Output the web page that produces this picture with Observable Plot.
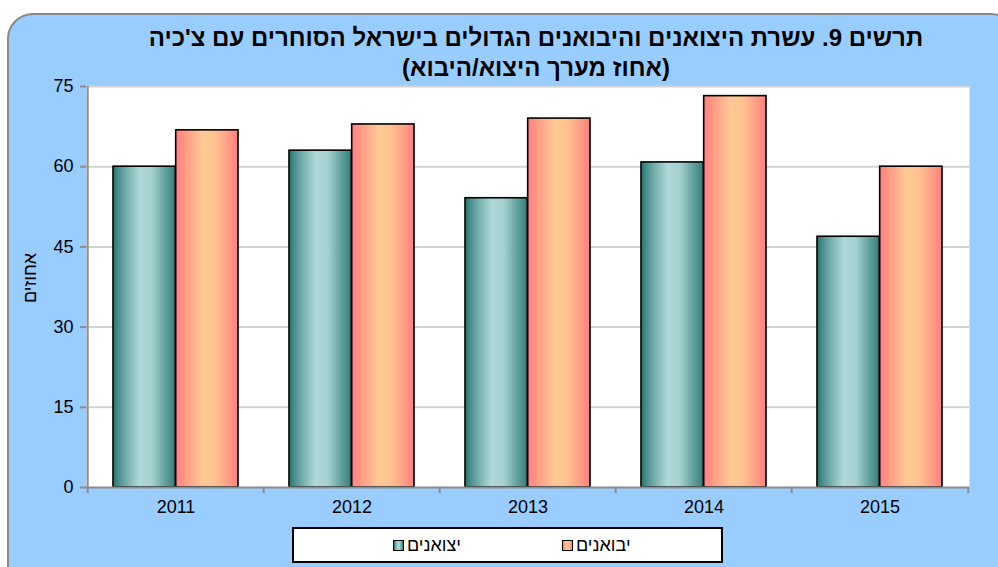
<!DOCTYPE html>
<html lang="he">
<head>
<meta charset="utf-8">
<script src="https://cdn.jsdelivr.net/npm/d3@7"></script>
<script src="https://cdn.jsdelivr.net/npm/@observablehq/plot@0.6"></script>
<style>
  html, body { margin: 0; padding: 0; width: 998px; height: 567px; overflow: hidden; background: #ffffff; font-family: "Liberation Sans", Arial, sans-serif; }
  #box { position: absolute; left: 7px; top: 13px; width: 1010px; height: 580px; background: #99CCFF; border: 2px solid #8a8a8a; border-radius: 26px; box-sizing: border-box; }
  #title { position: absolute; left: 86px; top: 23px; width: 900px; text-align: center; font-weight: bold; font-size: 24px; line-height: 30px; color: #000; }
  #chart { position: absolute; left: 0; top: 76px; }
  #legend { position: absolute; left: 292px; top: 527px; width: 431px; height: 36px; background: #fff; border: 2px solid #000; box-sizing: border-box; font-size: 18px; color: #000; }
  .item { position: absolute; top: 6px; display: flex; align-items: center; direction: ltr; }
  .sw { width: 9px; height: 9px; border: 1.5px solid #000; margin-right: 3px; }
</style>
</head>
<body>
<div id="box"></div>
<div id="title" dir="rtl"><div>תרשים 9. עשרת היצואנים והיבואנים הגדולים בישראל הסוחרים עם צ'כיה</div><div>(אחוז מערך היצוא/היבוא)</div></div>
<div id="chart"></div>
<div id="legend"></div>
<script>
const years = ["2011", "2012", "2013", "2014", "2015"];
const exportersValues = [60.0, 63.0, 54.1, 60.8, 46.9];
const importersValues = [66.8, 67.9, 69.0, 73.2, 60.0];
const seriesNames = ["יצואנים", "יבואנים"];
const yTicks = [0, 15, 30, 45, 60, 75];
const yLabel = "אחוזים";

const exportersData = years.map((y, i) => ({year: y, value: exportersValues[i]}));
const importersData = years.map((y, i) => ({year: y, value: importersValues[i]}));

const W = 998, H = 450, mL = 86, mR = 29, mT = 10, mB = 39;
const pInner = 0.29, pOuter = 0.145;
const step = (W - mL - mR) / (years.length - pInner + 2 * pOuter);
const bw = step * (1 - pInner);
const half = bw / 2;

const svg = Plot.plot({
  width: W, height: H,
  marginLeft: mL, marginRight: mR, marginTop: mT, marginBottom: mB,
  style: {background: "transparent", fontFamily: "'Liberation Sans', Arial, sans-serif", fontSize: "18px", color: "#000", overflow: "visible"},
  x: {domain: years, paddingInner: pInner, paddingOuter: pOuter, label: null},
  y: {domain: [0, 75], label: null},
  marks: [
    Plot.frame({fill: "white", stroke: "none"}),
    Plot.ruleY(yTicks.filter(d => d > 0), {stroke: "#d2d2d2", strokeWidth: 2}),
    Plot.barY(exportersData, {x: "year", y: "value", fill: "url(#gExp)", stroke: "#000", strokeWidth: 1.6, insetLeft: 0, insetRight: half}),
    Plot.barY(importersData, {x: "year", y: "value", fill: "url(#gImp)", stroke: "#000", strokeWidth: 1.6, insetLeft: half, insetRight: 0}),
    Plot.ruleY([0], {stroke: "#8c8c8c", strokeWidth: 2}),
    Plot.ruleX([years[0]], {x: d => d, y1: 0, y2: 75, dx: -step / 2, stroke: "#8c8c8c", strokeWidth: 2}),
    Plot.axisY({ticks: yTicks, tickSize: 6, tickPadding: 7, stroke: "#8c8c8c", strokeWidth: 2, fill: "#000"}),
    Plot.axisX({tickSize: 0, tickPadding: 13, fill: "#000"}),
    Plot.axisX({tickSize: 6, tickFormat: () => "", dx: -step / 2, stroke: "#8c8c8c", strokeWidth: 2}),
    Plot.axisX({ticks: [years[years.length - 1]], tickSize: 6, tickFormat: () => "", dx: step / 2, stroke: "#8c8c8c", strokeWidth: 2}),
    Plot.text([yLabel], {frameAnchor: "left", rotate: -90, dx: -56, dy: 16, fontSize: 18, fill: "#000"})
  ]
});

d3.select(svg).selectAll('g[aria-label$="tick label"]').attr("font-size", 18)
  .selectAll("text").style("font-size", "18px");

const defs = d3.select(svg).insert("defs", ":first-child");
function grad(id, stops) {
  const g = defs.append("linearGradient").attr("id", id).attr("x1", "0%").attr("x2", "100%").attr("y1", "0%").attr("y2", "0%");
  stops.forEach(([o, c]) => g.append("stop").attr("offset", o).attr("stop-color", c));
}
const expStops = [["0%", "#26746f"], ["15%", "#5f9f9b"], ["42%", "#b0d8d8"], ["62%", "#a6d2d1"], ["85%", "#5f9e9a"], ["100%", "#317f7a"]];
const impStops = [["0%", "#ff8080"], ["15%", "#ff9a84"], ["42%", "#ffc896"], ["62%", "#ffc391"], ["85%", "#ff9c86"], ["100%", "#ff8080"]];
grad("gExp", expStops);
grad("gImp", impStops);
document.getElementById("chart").appendChild(svg);

// legend
const legend = document.getElementById("legend");
const cssGrad = s => "linear-gradient(to right, " + s.map(([o, c]) => c + " " + o).join(", ") + ")";
[[seriesNames[0], expStops, 99], [seriesNames[1], impStops, 268]].forEach(([name, stops, left]) => {
  const it = document.createElement("div");
  it.className = "item";
  it.style.left = left + "px";
  const sw = document.createElement("div");
  sw.className = "sw";
  sw.style.background = cssGrad(stops);
  const tx = document.createElement("span");
  tx.textContent = name;
  tx.dir = "rtl";
  it.appendChild(sw); it.appendChild(tx);
  legend.appendChild(it);
});
</script>
</body>
</html>
